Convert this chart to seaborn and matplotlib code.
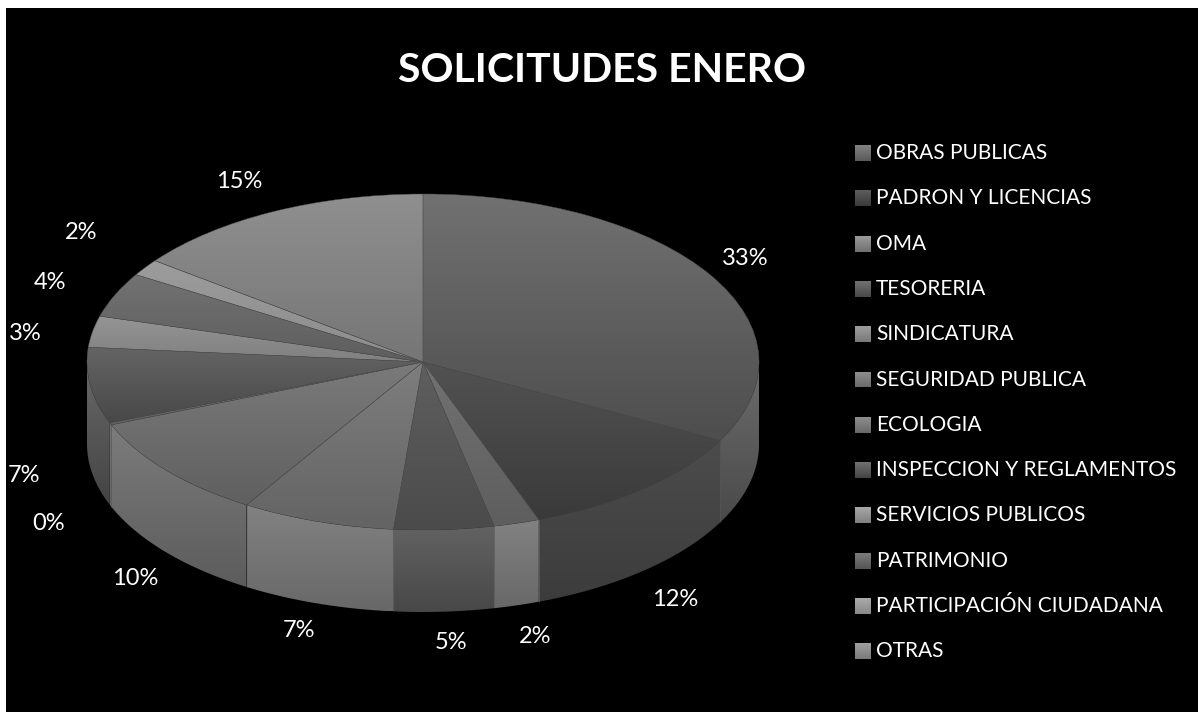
import numpy as np
import seaborn as sns
import matplotlib
matplotlib.use('Agg')
import matplotlib.pyplot as plt

categories = ['OBRAS PUBLICAS', 'PADRON Y LICENCIAS', 'OMA', 'TESORERIA', 'SINDICATURA',
              'SEGURIDAD PUBLICA', 'ECOLOGIA', 'INSPECCION Y REGLAMENTOS', 'SERVICIOS PUBLICOS',
              'PATRIMONIO', 'PARTICIPACIÓN CIUDADANA', 'OTRAS']
# percent of requests per category
values = [32.7, 11.7, 2.2, 4.8, 7.4, 10.1, 0.2, 7.3, 3.0, 4.3, 1.6, 14.7]

# (light, dark) shades for each slice
top_shades = [('#717171', '#4e4e4e'), ('#525252', '#3a3a3a'), ('#727272', '#5e5e5e'), ('#5f5f5f', '#4b4b4b'),
              ('#7e7e7e', '#646464'), ('#7a7a7a', '#606060'), ('#7a7a7a', '#606060'), ('#646464', '#484848'),
              ('#949494', '#808080'), ('#727272', '#5e5e5e'), ('#9c9c9c', '#8c8c8c'), ('#8f8f8f', '#767676')]
side_shades = [('#6c6c6c', '#4a4a4a'), ('#4c4c4c', '#3c3c3c'), ('#828282', '#686868'), ('#626262', '#484848'),
               ('#828282', '#686868'), ('#7c7c7c', '#5c5c5c'), ('#7c7c7c', '#5c5c5c'), ('#686868', '#444444'),
               ('#949494', '#808080'), ('#727272', '#5e5e5e'), ('#9c9c9c', '#8c8c8c'), ('#8f8f8f', '#767676')]
legend_shades = [('#828282', '#5a5a5a'), ('#606060', '#3a3a3a'), ('#9a9a9a', '#707070'), ('#727272', '#484848'),
                 ('#9e9e9e', '#787878'), ('#909090', '#6a6a6a'), ('#8e8e8e', '#686868'), ('#707070', '#444444'),
                 ('#a8a8a8', '#808080'), ('#7c7c7c', '#555555'), ('#ababab', '#888888'), ('#a0a0a0', '#7a7a7a')]
# small pixel nudges on top of the automatic label placement
label_nudges = [(-20, 1), (-11, 4), (1, -1), (3, -3), (2, -5), (18, 5),
                (-3, 5), (-3, 3), (-4, 8), (-7, 1), (-11, -16), (-6, 0)]

WIDTH, HEIGHT = 1198, 712
CX, CY = 423, 362
RX, RY = 336, 168
DEPTH = 82 / RY

sns.set_theme(style='white')
plt.rcParams['font.family'] = ['Lato', 'DejaVu Sans']


def shade(ax, light, dark, extent, clip_path, clip_transform=None):
    cmap = sns.blend_palette([light, dark], n_colors=64, as_cmap=True)
    grad = np.linspace(0, 1, 64).reshape(-1, 1)
    im = ax.imshow(grad, cmap=cmap, extent=extent, origin='upper', aspect='auto', zorder=1,
                   interpolation='bilinear')
    if clip_transform is None:
        im.set_clip_path(clip_path)
    else:
        im.set_clip_path(clip_path, clip_transform)


fig = plt.figure(figsize=(WIDTH / 100, HEIGHT / 100), dpi=100, facecolor='white')

# black panel in pixel coordinates
bg = fig.add_axes([0, 0, 1, 1], zorder=0)
bg.set_xlim(0, WIDTH)
bg.set_ylim(HEIGHT, 0)
bg.axis('off')
bg.fill_between([6, WIDTH], 8, HEIGHT, color='black', linewidth=0)

# pie axes: one data unit is RX pixels across and RY pixels down, so pie comes out elliptical
ax = fig.add_axes([0, 0, 1, 1], zorder=1)
ax.patch.set_alpha(0)
wedges, _ = ax.pie(values, startangle=90, counterclock=False, radius=1)
xlim = (-CX / RX, (WIDTH - CX) / RX)
ylim = ((CY - HEIGHT) / RY, CY / RY)

edges = np.cumsum([0] + values) / sum(values) * 360  # degrees clockwise from 12 o'clock

for i, w in enumerate(wedges):
    # side wall, only the front half of the pie shows it
    a0, a1 = max(edges[i], 90), min(edges[i + 1], 270)
    if a1 > a0:
        t = np.radians(np.linspace(a0, a1, 80))
        x = np.sin(t)
        y_top = np.cos(t)
        wall = ax.fill_between(x, y_top, y_top - DEPTH, facecolor='none', linewidth=0)
        box = wall.get_paths()[0].get_extents()
        shade(ax, side_shades[i][0], side_shades[i][1], (box.x0, box.x1, box.y0, box.y1),
              wall.get_paths()[0], ax.transData)

    # top face
    w.set_facecolor('none')
    w.set_edgecolor('#505050')
    w.set_linewidth(0.3)
    w.set_zorder(3)
    box = w.get_path().get_extents(w.get_patch_transform())
    shade(ax, top_shades[i][0], top_shades[i][1], (box.x0, box.x1, box.y0, box.y1), w)

# seams between the side walls
for a in edges[1:-1]:
    if 90 < a < 270:
        t = np.radians(a)
        ax.vlines(np.sin(t), np.cos(t) - DEPTH, np.cos(t), color='#6a6a6a', linewidth=0.4, zorder=2)

# percent labels sit outside the rim, pushed down past the wall on the lower half
mids = (edges[:-1] + edges[1:]) / 2
for v, m, (dx, dy) in zip(values, mids, label_nudges):
    t = np.radians(m)
    lx = 1.19 * np.sin(t) + dx / RX
    ly = 1.2 * np.cos(t) - dy / RY
    if np.cos(t) < 0:
        ly -= DEPTH
    ax.text(lx, ly, f'{round(v)}%', color='white', fontsize=17, ha='center', va='center', zorder=4)

ax.set_xlim(xlim)
ax.set_ylim(ylim)
ax.set_aspect('auto')
ax.axis('off')

# legend, drawn by hand because the swatches have gradients
top_ax = fig.add_axes([0, 0, 1, 1], zorder=2)
top_ax.patch.set_alpha(0)
for i, name in enumerate(categories):
    yc = 153 + i * 45.3
    sq = top_ax.fill_between([855, 871], yc - 8, yc + 8, facecolor='none', linewidth=0)
    shade(top_ax, legend_shades[i][0], legend_shades[i][1], (855, 871, yc + 8, yc - 8), sq.get_paths()[0],
          top_ax.transData)
    top_ax.text(876, yc, name, color='white', fontsize=15, ha='left', va='center')

top_ax.text(602, 70.5, 'SOLICITUDES ENERO', color='white', fontsize=29.5, fontweight='bold',
            ha='center', va='center')
top_ax.set_xlim(0, WIDTH)
top_ax.set_ylim(HEIGHT, 0)
top_ax.set_aspect('auto')
top_ax.axis('off')

fig.savefig('out.png', dpi=100, facecolor='white')
